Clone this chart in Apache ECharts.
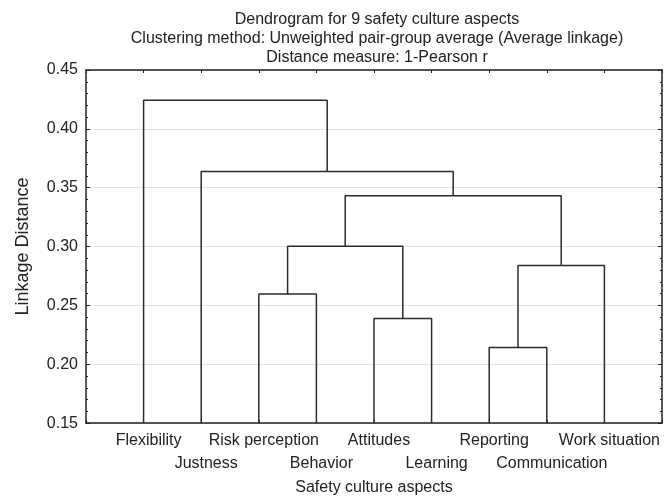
<!DOCTYPE html>
<html>
<head>
<meta charset="utf-8">
<script src="https://cdn.jsdelivr.net/npm/echarts@6/dist/echarts.min.js"></script>
<style>html,body{margin:0;padding:0;background:#fff;overflow:hidden}#c{width:670px;height:501px}</style>
</head>
<body>
<div id="c"></div>
<script>
// Leaves in dendrogram order
const leaves = ['Flexibility', 'Justness', 'Risk perception', 'Behavior', 'Attitudes', 'Learning', 'Reporting', 'Communication', 'Work situation'];
// Merges: cluster ids 0..8 are leaves; merge k creates cluster 9+k
const mergeLeft   = [6, 4, 2, 9, 11, 13, 1, 0];
const mergeRight  = [7, 5, 3, 8, 10, 12, 14, 15];
const mergeHeight = [0.2142, 0.2389, 0.2597, 0.2839, 0.3002, 0.3432, 0.3637, 0.4244];
const yTicks = [0.15, 0.20, 0.25, 0.30, 0.35, 0.40, 0.45];

const yMin = yTicks[0], yMax = yTicks[yTicks.length - 1];
const pos = [], hgt = [];
leaves.forEach((n, i) => { pos[i] = i + 1; hgt[i] = yMin; });
const series = [];
mergeLeft.forEach((l, k) => {
  const r = mergeRight[k], h = mergeHeight[k], id = leaves.length + k;
  series.push({
    type: 'line', xAxisIndex: 0, yAxisIndex: 0, symbol: 'none', silent: true,
    lineStyle: { color: '#2b2b2b', width: 1.5 },
    data: [[pos[l], hgt[l]], [pos[l], h], [pos[r], h], [pos[r], hgt[r]]]
  });
  pos[id] = (pos[l] + pos[r]) / 2; hgt[id] = h;
});

const font = 'Liberation Sans, Arial, sans-serif';
const chart = echarts.init(document.getElementById('c'), null, { renderer: 'canvas', width: 670, height: 501 });
chart.setOption({
  animation: false,
  backgroundColor: '#fff',
  textStyle: { fontFamily: font, color: '#222' },
  title: {
    text: 'Dendrogram for 9 safety culture aspects\nClustering method: Unweighted pair-group average (Average linkage)\nDistance measure: 1-Pearson r',
    left: 377, top: 10, padding: 0, textAlign: 'center',
    textStyle: { fontFamily: font, fontSize: 16, fontWeight: 'normal', color: '#222', lineHeight: 19 }
  },
  grid: { left: 86, width: 582, top: 70, height: 356, containLabel: false },
  xAxis: [{
    type: 'value', min: 0, max: leaves.length + 1, interval: 1, position: 'bottom',
    name: 'Safety culture aspects', nameLocation: 'middle', nameGap: 54,
    nameTextStyle: { fontFamily: font, fontSize: 16, color: '#222' },
    axisLine: { show: true, onZero: false, lineStyle: { color: '#222', width: 1.5 } },
    axisTick: { show: true, inside: true, length: 3, lineStyle: { color: '#222' } },
    splitLine: { show: false },
    axisLabel: {
      show: true, margin: 6, fontFamily: font, fontSize: 16, color: '#222', lineHeight: 23,
      padding: [0, 0, 0, 10],
      formatter: v => { const i = Math.round(v) - 1; if (i < 0 || i >= leaves.length) return ''; return i % 2 === 0 ? leaves[i] : '\n' + leaves[i]; }
    }
  }, {
    type: 'value', min: 0, max: leaves.length + 1, interval: 1, position: 'top',
    axisLine: { show: true, onZero: false, lineStyle: { color: '#222', width: 1.5 } },
    axisTick: { show: true, inside: true, length: 3, lineStyle: { color: '#222' } },
    axisLabel: { show: false }, splitLine: { show: false }
  }],
  yAxis: [{
    type: 'value', min: yMin, max: yMax, interval: 0.05, position: 'left',
    name: 'Linkage Distance', nameLocation: 'middle', nameGap: 54,
    nameTextStyle: { fontFamily: font, fontSize: 18, color: '#222' },
    axisLine: { show: true, onZero: false, lineStyle: { color: '#222', width: 1.5 } },
    axisTick: { show: true, inside: true, length: 4, lineStyle: { color: '#222' } },
    minorTick: { show: true, splitNumber: 5, length: 2, lineStyle: { color: '#222' } },
    axisLabel: { margin: 8, fontFamily: font, fontSize: 16, color: '#222', formatter: v => v.toFixed(2) },
    splitLine: { show: true, lineStyle: { color: '#e2e2e2', width: 1 } }
  }, {
    type: 'value', min: yMin, max: yMax, interval: 0.05, position: 'right',
    axisLine: { show: true, onZero: false, lineStyle: { color: '#222', width: 1.5 } },
    axisTick: { show: true, inside: true, length: 4, lineStyle: { color: '#222' } },
    minorTick: { show: true, splitNumber: 5, length: 2, lineStyle: { color: '#222' } },
    axisLabel: { show: false }, splitLine: { show: false }
  }],
  series: series
});
</script>
</body>
</html>
